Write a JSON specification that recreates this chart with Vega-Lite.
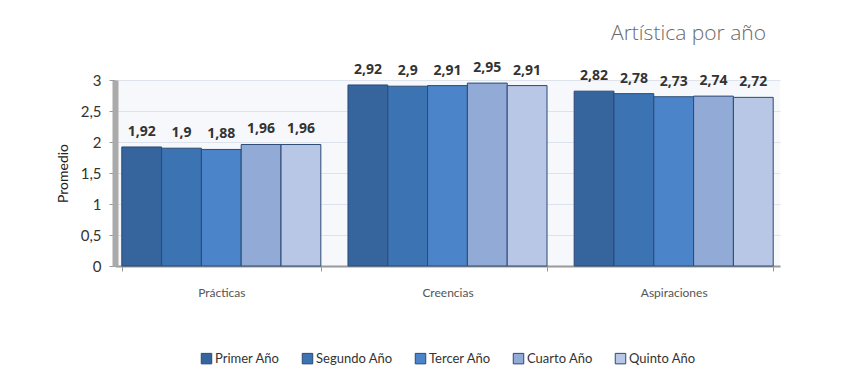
{
  "$schema": "https://vega.github.io/schema/vega-lite/v6.json",
  "autosize": "none",
  "width": 665,
  "height": 186,
  "padding": {"left": 115, "top": 80, "right": 74, "bottom": 124},
  "background": "white",
  "title": {"text": "Artística por año", "anchor": "end", "fontSize": 21, "font": "Open Sans", "fontWeight": 300, "color": "#6a6a6a", "offset": 17, "dx": -14},
  "data": {"values": [
    {"dim": "Prácticas", "year": "Primer Año", "value": 1.92, "label": "1,92"},
    {"dim": "Prácticas", "year": "Segundo Año", "value": 1.9, "label": "1,9"},
    {"dim": "Prácticas", "year": "Tercer Año", "value": 1.88, "label": "1,88"},
    {"dim": "Prácticas", "year": "Cuarto Año", "value": 1.96, "label": "1,96"},
    {"dim": "Prácticas", "year": "Quinto Año", "value": 1.96, "label": "1,96"},
    {"dim": "Creencias", "year": "Primer Año", "value": 2.92, "label": "2,92"},
    {"dim": "Creencias", "year": "Segundo Año", "value": 2.9, "label": "2,9"},
    {"dim": "Creencias", "year": "Tercer Año", "value": 2.91, "label": "2,91"},
    {"dim": "Creencias", "year": "Cuarto Año", "value": 2.95, "label": "2,95"},
    {"dim": "Creencias", "year": "Quinto Año", "value": 2.91, "label": "2,91"},
    {"dim": "Aspiraciones", "year": "Primer Año", "value": 2.82, "label": "2,82"},
    {"dim": "Aspiraciones", "year": "Segundo Año", "value": 2.78, "label": "2,78"},
    {"dim": "Aspiraciones", "year": "Tercer Año", "value": 2.73, "label": "2,73"},
    {"dim": "Aspiraciones", "year": "Cuarto Año", "value": 2.74, "label": "2,74"},
    {"dim": "Aspiraciones", "year": "Quinto Año", "value": 2.72, "label": "2,72"}
  ]},
  "encoding": {
    "x": {"field": "dim", "type": "nominal", "sort": ["Prácticas", "Creencias", "Aspiraciones"],
      "scale": {"paddingInner": 0.12, "paddingOuter": 0.03},
      "axis": {"title": null, "labelAngle": 0, "labelFont": "Lato", "labelFontSize": 12, "labelColor": "#555555", "labelPadding": 16, "ticks": true, "tickColor": "#999999", "tickBand": "extent", "domainColor": "#999999", "domainWidth": 2}},
    "xOffset": {"field": "year", "type": "nominal", "sort": ["Primer Año", "Segundo Año", "Tercer Año", "Cuarto Año", "Quinto Año"]},
    "y": {"field": "value", "type": "quantitative", "scale": {"domain": [0, 3]},
      "axis": {"title": "Promedio", "titleFont": "Lato", "titleFontSize": 14, "titleFontWeight": "normal", "titleColor": "#222222", "titlePadding": 10,
        "values": [0, 0.5, 1, 1.5, 2, 2.5, 3], "labelExpr": "replace(format(datum.value, '~g'), '.', ',')",
        "labelFont": "Lato", "labelFontSize": 15, "labelColor": "#333333", "labelPadding": 8,
        "tickColor": "#999999", "tickSize": 6, "domainColor": "#aaaaaa", "domainWidth": 6, "gridColor": "#dde3ec"}}
  },
  "layer": [
    {"mark": {"type": "bar", "stroke": "#2b4a75", "strokeWidth": 1},
      "encoding": {"color": {"field": "year", "type": "nominal", "sort": ["Primer Año", "Segundo Año", "Tercer Año", "Cuarto Año", "Quinto Año"],
        "scale": {"domain": ["Primer Año", "Segundo Año", "Tercer Año", "Cuarto Año", "Quinto Año"], "range": ["#35659c", "#3b73b3", "#4b84c8", "#92aad6", "#b8c7e5"]},
        "legend": {"title": null, "orient": "none", "legendX": 85, "legendY": 272, "direction": "horizontal", "symbolType": "square", "symbolSize": 110, "symbolStrokeColor": "#2b4a75", "symbolStrokeWidth": 1, "labelFont": "Lato", "labelFontSize": 13, "labelColor": "#333333", "columnPadding": 20, "symbolOffset": 0, "labelOffset": 2}}}},
    {"mark": {"type": "text", "dy": -15, "font": "Open Sans", "fontSize": 14, "fontWeight": "bold", "color": "#333333"},
      "encoding": {"text": {"field": "label"}}}
  ],
  "config": {"view": {"fill": "#f6f8fb", "stroke": null}}
}
